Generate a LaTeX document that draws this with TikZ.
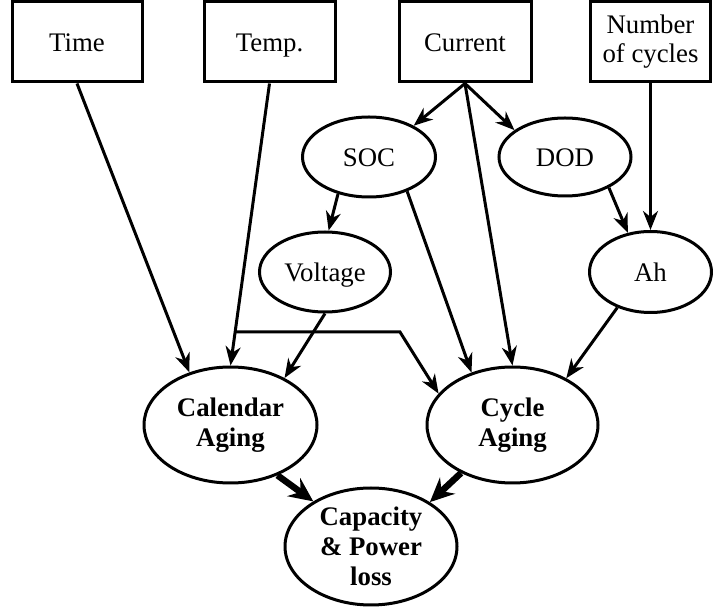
\documentclass[tikz,border=0pt]{standalone}
\usepackage{fontspec}
\setmainfont{Liberation Serif}
\usetikzlibrary{shapes.geometric,arrows.meta}
\begin{document}
\begin{tikzpicture}[x=1pt,y=1pt,
  inbox/.style={draw,line width=3pt,minimum height=80pt,inner sep=0pt,
    align=center,font=\fontsize{26.8}{29}\selectfont},
  oneline/.style={text height=18.5pt,text depth=0pt},
  oval/.style={draw,ellipse,line width=3pt,inner sep=0pt,align=center,
    font=\fontsize{26.8}{29}\selectfont},
  result/.style={oval,font=\bfseries\fontsize{26.8}{30}\selectfont},
  link/.style={line width=3pt,-{Stealth[length=19pt,width=15pt,inset=6pt]}},
  heavy/.style={line width=6.5pt,-{Stealth[length=24pt,width=22pt,inset=8pt]}}]

\useasboundingbox (0,0) rectangle (713,-609);

% input quantities
\node[inbox,oneline,minimum width=130pt] (time)    at (77,-42)    {Time};
\node[inbox,oneline,minimum width=131pt] (temp)    at (269.5,-42) {Temp.};
\node[inbox,oneline,minimum width=132pt] (current) at (465,-42)   {Current};
\node[inbox,minimum width=120pt]         (cycles)  at (650.5,-42) {Number\\of cycles};

% derived quantities
\node[oval,oneline,minimum width=133pt,minimum height=80pt] (soc)  at (369,-157) {SOC};
\node[oval,oneline,minimum width=132pt,minimum height=78pt] (dod)  at (565,-157) {DOD};
\node[oval,oneline,minimum width=131pt,minimum height=80pt] (volt) at (325,-272) {Voltage};
\node[oval,oneline,minimum width=122pt,minimum height=81pt] (ah)   at (650.5,-272) {Ah};

% aging mechanisms and result
\node[result,minimum width=173pt,minimum height=116pt] (cal) at (230.5,-425) {Calendar\\Aging};
\node[result,minimum width=171pt,minimum height=116pt] (cyc) at (512.5,-425) {Cycle\\Aging};
\node[result,minimum width=172pt,minimum height=117pt] (cap) at (371,-546.5) {Capacity\\\& Power\\loss};

% connectors
\draw[link] (time.south) -- (cal.128);
\draw[link] (temp.south) -- (cal.north);
\coordinate (rail) at (0,-332);
\coordinate (knee) at (400,-332);
\coordinate (split) at (intersection of temp.south--cal.north and rail--knee);
\draw[link] (split) -- (knee) -- (cyc.157);

\draw[link] (current.south) -- (soc.35);
\draw[link] (current.south) -- (dod.152);
\draw[link] (current.south) -- (cyc.north);

\draw[link] (soc.230) -- (volt.85);
\draw[link] (soc.318) -- (cyc.128);
\draw[link] (dod.325) -- (ah.120);
\draw[link] (cycles.south) -- (ah.north);
\draw[link] (volt.south) -- (cal.41);
\draw[link] (ah.227) -- (cyc.41);

\draw[heavy] (cal.313) -- (cap.142);
\draw[heavy] (cyc.223) -- (cap.37);
\end{tikzpicture}
\end{document}
